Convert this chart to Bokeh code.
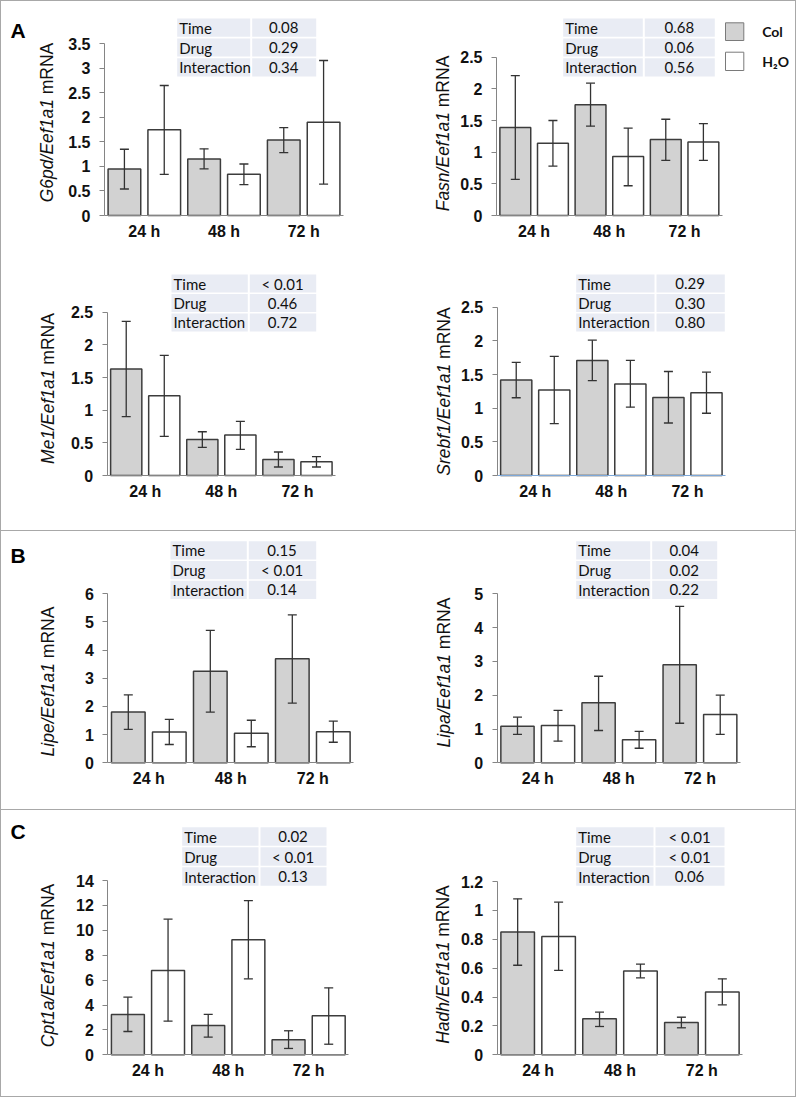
import math
from bokeh.plotting import figure
from bokeh.models import (Range1d, LinearAxis, FixedTicker, ColumnDataSource,
                          Whisker, TeeHead, Spacer)
from bokeh.layouts import row, column
from bokeh.embed import file_html
from bokeh.resources import INLINE
from bokeh.core.properties import value

# ---------------- data ----------------
times = ["24 h", "48 h", "72 h"]
effects = ["Time", "Drug", "Interaction"]
groups = ["Col", "H\u2082O"]

g6pd_col = [0.95, 1.15, 1.54]
g6pd_col_lo = [0.54, 0.95, 1.28]
g6pd_col_hi = [1.35, 1.36, 1.79]
g6pd_h2o = [1.75, 0.84, 1.90]
g6pd_h2o_lo = [0.84, 0.63, 0.64]
g6pd_h2o_hi = [2.65, 1.05, 3.16]
g6pd_p = ["0.08", "0.29", "0.34"]
g6pd_ticks = [0, 0.5, 1, 1.5, 2, 2.5, 3, 3.5]
g6pd_tick_labels = ["0", "0.5", "1", "1.5", "2", "2.5", "3", "3.5"]

fasn_col = [1.39, 1.75, 1.20]
fasn_col_lo = [0.57, 1.41, 0.87]
fasn_col_hi = [2.21, 2.09, 1.52]
fasn_h2o = [1.14, 0.93, 1.16]
fasn_h2o_lo = [0.78, 0.47, 0.87]
fasn_h2o_hi = [1.50, 1.38, 1.45]
fasn_p = ["0.68", "0.06", "0.56"]

me1_col = [1.63, 0.55, 0.245]
me1_col_lo = [0.90, 0.43, 0.13]
me1_col_hi = [2.36, 0.67, 0.36]
me1_h2o = [1.22, 0.62, 0.21]
me1_h2o_lo = [0.60, 0.40, 0.13]
me1_h2o_hi = [1.84, 0.83, 0.29]
me1_p = ["< 0.01", "0.46", "0.72"]

srebf1_col = [1.42, 1.71, 1.16]
srebf1_col_lo = [1.155, 1.41, 0.78]
srebf1_col_hi = [1.68, 2.01, 1.545]
srebf1_h2o = [1.27, 1.36, 1.23]
srebf1_h2o_lo = [0.77, 1.015, 0.925]
srebf1_h2o_hi = [1.77, 1.71, 1.535]
srebf1_p = ["0.29", "0.30", "0.80"]

ticks_25 = [0, 0.5, 1, 1.5, 2, 2.5]
tick_labels_25 = ["0", "0.5", "1", "1.5", "2", "2.5"]

lipe_col = [1.80, 3.25, 3.69]
lipe_col_lo = [1.19, 1.80, 2.12]
lipe_col_hi = [2.41, 4.70, 5.25]
lipe_h2o = [1.09, 1.05, 1.10]
lipe_h2o_lo = [0.65, 0.57, 0.73]
lipe_h2o_hi = [1.54, 1.51, 1.48]
lipe_p = ["0.15", "< 0.01", "0.14"]
lipe_ticks = [0, 1, 2, 3, 4, 5, 6]
lipe_tick_labels = ["0", "1", "2", "3", "4", "5", "6"]

lipa_col = [1.08, 1.775, 2.90]
lipa_col_lo = [0.84, 0.955, 1.17]
lipa_col_hi = [1.35, 2.56, 4.63]
lipa_h2o = [1.10, 0.68, 1.43]
lipa_h2o_lo = [0.64, 0.43, 0.84]
lipa_h2o_hi = [1.55, 0.93, 2.00]
lipa_p = ["0.04", "0.02", "0.22"]
lipa_ticks = [0, 1, 2, 3, 4, 5]
lipa_tick_labels = ["0", "1", "2", "3", "4", "5"]

cpt1a_col = [3.24, 2.35, 1.20]
cpt1a_col_lo = [1.87, 1.42, 0.51]
cpt1a_col_hi = [4.63, 3.24, 1.93]
cpt1a_h2o = [6.77, 9.24, 3.13]
cpt1a_h2o_lo = [2.70, 6.10, 0.85]
cpt1a_h2o_hi = [10.89, 12.39, 5.38]
cpt1a_p = ["0.02", "< 0.01", "0.13"]
cpt1a_ticks = [0, 2, 4, 6, 8, 10, 12, 14]
cpt1a_tick_labels = ["0", "2", "4", "6", "8", "10", "12", "14"]

hadh_col = [0.85, 0.249, 0.224]
hadh_col_lo = [0.62, 0.196, 0.187]
hadh_col_hi = [1.08, 0.295, 0.26]
hadh_h2o = [0.82, 0.58, 0.434]
hadh_h2o_lo = [0.584, 0.533, 0.346]
hadh_h2o_hi = [1.057, 0.628, 0.526]
hadh_p = ["< 0.01", "< 0.01", "0.06"]
hadh_ticks = [0, 0.2, 0.4, 0.6, 0.8, 1, 1.2]
hadh_tick_labels = ["0", "0.2", "0.4", "0.6", "0.8", "1", "1.2"]

# ---------------- styles ----------------
COL_FILL = "#d2d2d2"
H2O_FILL = "#ffffff"
BAR_LINE = "#3c3c3c"
ERR_LINE = "#333333"
AXIS_COL = "#858585"
TABLE_FILL = "#e9ecf4"
FRAME_GRAY = "#a8a8a8"
TXT = "#111111"
TICK_FONT = "Liberation Sans"

ARIAL_W = {'G': 778, '6': 556, 'p': 556, 'd': 556, '/': 278, 'E': 667, 'e': 556,
           'f': 278, '1': 556, 'a': 556, 'F': 611, 's': 500, 'n': 556, 'M': 833,
           'S': 667, 'r': 333, 'b': 556, 'L': 556, 'i': 222, 'C': 722, 't': 278,
           'H': 722, 'h': 556, ' ': 278, 'm': 833, 'R': 722, 'N': 722, 'A': 667}


def text_w(s, size):
    return sum(ARIAL_W.get(c, 556) for c in s) * size / 1000.0


def make_panel(gene, col, col_lo, col_hi, h2o, h2o_lo, h2o_hi, pvals, ticks, tick_labels, geo):
    X0, Y0, W, H = geo["box"]
    ax_x = geo["axis_x"]
    base = geo["base"]
    left_px = ax_x - X0
    right_px = X0 + W - ax_x
    up_px = base - Y0
    down_px = Y0 + H - base
    ppu_y = (base - geo["top_y"]) / ticks[-1]
    ppu_x = (geo["x_end"] - ax_x) / len(times)

    p = figure(width=W, height=H, output_backend="svg", toolbar_location=None,
               x_range=Range1d(-left_px / ppu_x, right_px / ppu_x),
               y_range=Range1d(-down_px / ppu_y, up_px / ppu_y),
               x_axis_type=None, y_axis_type=None,
               min_border_left=0, min_border_right=0, min_border_top=0,
               min_border_bottom=0)
    p.outline_line_color = None
    p.background_fill_color = "white"
    p.border_fill_color = "white"
    p.extra_x_ranges = {"px": Range1d(-left_px, right_px)}
    p.extra_y_ranges = {"px": Range1d(-down_px, up_px)}

    def px(x, y):
        return x - ax_x, base - y

    # axes (drawn at fixed locations inside the frame)
    yax = LinearAxis(ticker=FixedTicker(ticks=ticks), bounds=(0, ticks[-1]), fixed_location=0,
                     major_label_overrides={t: l for t, l in zip(ticks, tick_labels)},
                     axis_line_color=AXIS_COL, axis_line_width=1,
                     major_tick_line_color=AXIS_COL, major_tick_out=5, major_tick_in=0,
                     minor_tick_line_color=None, major_label_standoff=9,
                     major_label_text_font=TICK_FONT, major_label_text_font_style="bold",
                     major_label_text_font_size="16px", major_label_text_color=TXT)
    p.add_layout(yax, "left")
    centers = [i + 0.5 for i in range(len(times))]
    xax = LinearAxis(ticker=FixedTicker(ticks=centers), bounds=(0, len(times)), fixed_location=0,
                     major_label_overrides={c: t for c, t in zip(centers, times)},
                     axis_line_color=geo.get("base_color", AXIS_COL), axis_line_width=1,
                     major_tick_line_color=None, major_tick_out=0, major_tick_in=0,
                     minor_tick_line_color=None, major_label_standoff=7,
                     major_label_text_font=TICK_FONT, major_label_text_font_style="bold",
                     major_label_text_font_size="16px", major_label_text_color=TXT)
    p.add_layout(xax, "below")

    # bars + error bars
    for vals, lo, hi, off, fill in ((col, col_lo, col_hi, -0.25, COL_FILL),
                                    (h2o, h2o_lo, h2o_hi, 0.25, H2O_FILL)):
        src = ColumnDataSource(dict(x=[c + off for c in centers], top=vals, lo=lo, hi=hi))
        p.vbar(x="x", top="top", bottom=0, width=0.41, source=src,
               fill_color=fill, line_color=BAR_LINE, line_width=1.5)
        w = Whisker(source=src, base="x", upper="hi", lower="lo", dimension="height",
                    level="overlay", line_color=ERR_LINE, line_width=1.3,
                    upper_head=TeeHead(size=9, line_color=ERR_LINE, line_width=1.3),
                    lower_head=TeeHead(size=9, line_color=ERR_LINE, line_width=1.3))
        p.add_layout(w)

    # p-value table
    tl, ts, tr, tt, tb = geo["table"]
    rh = (tb - tt) / 3.0
    lefts, rights, tops, bots = [], [], [], []
    for i in range(3):
        y_top = tt + i * rh + 0.8
        y_bot = tt + (i + 1) * rh - 0.8
        for (a, b) in ((tl, ts - 1), (ts + 1, tr)):
            l, t_ = px(a, y_top)
            r, b_ = px(b, y_bot)
            lefts.append(l); rights.append(r); tops.append(t_); bots.append(b_)
    p.quad(left=lefts, right=rights, top=tops, bottom=bots, x_range_name="px",
           y_range_name="px", fill_color=TABLE_FILL, line_color=None)
    lx, ly, vx = [], [], []
    for i in range(3):
        xx, yy = px(tl + 2, tt + (i + 0.5) * rh)
        lx.append(xx); ly.append(yy)
        vx.append(px((ts + tr) / 2.0, 0)[0])
    p.text(x=lx, y=ly, text=effects, x_range_name="px", y_range_name="px",
           text_font=value("Lato"), text_font_size="15px", text_align="left",
           text_baseline="middle", text_color=TXT)
    p.text(x=vx, y=ly, text=pvals, x_range_name="px", y_range_name="px",
           text_font=value("Lato"), text_font_size="15px", text_align="center",
           text_baseline="middle", text_color=TXT)

    # y-axis label: italic gene ratio + regular "mRNA"
    fs = 17.5
    ital = gene + "/Eef1a1"
    reg = "mRNA"
    w_i = text_w(ital, fs)
    w_s = text_w(" ", fs)
    total = w_i + w_s + text_w(reg, fs)
    lab_x, lab_cy = geo["label"]
    junction = lab_cy + total / 2.0 - w_i
    jx, jy = px(lab_x, junction)
    p.text(x=[jx], y=[jy], text=[ital], x_range_name="px", y_range_name="px",
           angle=math.pi / 2, text_align="right", text_baseline="middle",
           text_font=value("Liberation Sans"), text_font_style=value("italic"),
           text_font_size=f"{fs}px", text_color=TXT)
    p.text(x=[jx], y=[jy + w_s], text=[reg], x_range_name="px", y_range_name="px",
           angle=math.pi / 2, text_align="left", text_baseline="middle",
           text_font=value("Liberation Sans"), text_font_style=value("normal"),
           text_font_size=f"{fs}px", text_color=TXT)

    if "letter" in geo:
        letter, lxr, lyr = geo["letter"]
        a, b = px(lxr, lyr)
        p.text(x=[a], y=[b], text=[letter], x_range_name="px", y_range_name="px",
               text_align="left", text_baseline="alphabetic",
               text_font=value("Liberation Sans"), text_font_style=value("bold"),
               text_font_size="21px", text_color="#000000")

    if geo.get("legend"):
        sw_l, sw_r = 725, 743.3
        rows_y = [(22.3, 40.0), (51.7, 70.0)]
        fills = [COL_FILL, H2O_FILL]
        ql, qr, qt, qb, txs, tys = [], [], [], [], [], []
        for (a, b) in rows_y:
            l, t_ = px(sw_l, a)
            r, b_ = px(sw_r, b)
            ql.append(l); qr.append(r); qt.append(t_); qb.append(b_)
            xx, yy = px(761.7, (a + b) / 2.0)
            txs.append(xx); tys.append(yy)
        p.quad(left=ql, right=qr, top=qt, bottom=qb, x_range_name="px", y_range_name="px",
               fill_color=fills, line_color="#7a7a7a", line_width=1)
        p.text(x=txs, y=tys, text=groups, x_range_name="px", y_range_name="px",
               text_font=value("Lato"), text_font_style=value("bold"), text_font_size="14px",
               text_align="left", text_baseline="middle", text_color=TXT)
    return p


p1 = make_panel("G6pd", g6pd_col, g6pd_col_lo, g6pd_col_hi, g6pd_h2o, g6pd_h2o_lo, g6pd_h2o_hi,
                g6pd_p, g6pd_ticks, g6pd_tick_labels,
                dict(box=(1, 1, 399, 265), axis_x=104, base=215, top_y=43.3, x_end=343,
                     table=(176.7, 250.7, 315.7, 17.3, 76.7), label=(46, 122),
                     letter=("A", 10, 30)))
p2 = make_panel("Fasn", fasn_col, fasn_col_lo, fasn_col_hi, fasn_h2o, fasn_h2o_lo, fasn_h2o_hi,
                fasn_p, ticks_25, tick_labels_25,
                dict(box=(400, 1, 395, 265), axis_x=496, base=215, top_y=56.7, x_end=721.7,
                     table=(562.7, 643.3, 714.3, 17.3, 76.7), label=(442.5, 133),
                     legend=True))
p3 = make_panel("Me1", me1_col, me1_col_lo, me1_col_hi, me1_h2o, me1_h2o_lo, me1_h2o_hi,
                me1_p, ticks_25, tick_labels_25,
                dict(box=(1, 266, 399, 264), axis_x=106.7, base=475, top_y=311.7, x_end=335,
                     table=(171, 248.3, 315.7, 273.3, 331.7), label=(47, 388)))
p4 = make_panel("Srebf1", srebf1_col, srebf1_col_lo, srebf1_col_hi, srebf1_h2o, srebf1_h2o_lo,
                srebf1_h2o_hi, srebf1_p, ticks_25, tick_labels_25,
                dict(box=(400, 266, 395, 264), axis_x=496.7, base=475, top_y=306.7, x_end=725,
                     table=(575.7, 655, 724.3, 273.3, 331.7), label=(443, 391),
                     base_color="#7ea8d8"))
p5 = make_panel("Lipe", lipe_col, lipe_col_lo, lipe_col_hi, lipe_h2o, lipe_h2o_lo, lipe_h2o_hi,
                lipe_p, lipe_ticks, lipe_tick_labels,
                dict(box=(1, 531, 399, 278), axis_x=107.3, base=762.3, top_y=593.3, x_end=353.3,
                     table=(170, 247.3, 315.7, 540, 599.3), label=(47, 681),
                     letter=("B", 10, 555)))
p6 = make_panel("Lipa", lipa_col, lipa_col_lo, lipa_col_hi, lipa_h2o, lipa_h2o_lo, lipa_h2o_hi,
                lipa_p, lipa_ticks, lipa_tick_labels,
                dict(box=(400, 531, 395, 278), axis_x=496.7, base=762.3, top_y=593.3, x_end=740,
                     table=(575.7, 650.7, 716.7, 540, 599.3), label=(443, 672)))
p7 = make_panel("Cpt1a", cpt1a_col, cpt1a_col_lo, cpt1a_col_hi, cpt1a_h2o, cpt1a_h2o_lo,
                cpt1a_h2o_hi, cpt1a_p, cpt1a_ticks, cpt1a_tick_labels,
                dict(box=(1, 810, 399, 286), axis_x=107.3, base=1054.3, top_y=880, x_end=348.3,
                     table=(181.7, 259, 326, 826, 886), label=(47, 965),
                     letter=("C", 10, 831)))
p8 = make_panel("Hadh", hadh_col, hadh_col_lo, hadh_col_hi, hadh_h2o, hadh_h2o_lo, hadh_h2o_hi,
                hadh_p, hadh_ticks, hadh_tick_labels,
                dict(box=(400, 810, 395, 286), axis_x=496.7, base=1054.3, top_y=881, x_end=742.3,
                     table=(575.7, 654, 724, 826, 886), label=(442, 964)))


def hline():
    return Spacer(width=796, height=1, styles={"background-color": FRAME_GRAY})


def vline(h):
    return Spacer(width=1, height=h, styles={"background-color": FRAME_GRAY})


secA = column(row(p1, p2), row(p3, p4))
secB = row(p5, p6)
secC = row(p7, p8)
layout = column(
    hline(),
    row(vline(529), secA, vline(529)),
    hline(),
    row(vline(278), secB, vline(278)),
    hline(),
    row(vline(286), secC, vline(286)),
    hline(),
)

open("out.html", "w").write(file_html(layout, INLINE))
